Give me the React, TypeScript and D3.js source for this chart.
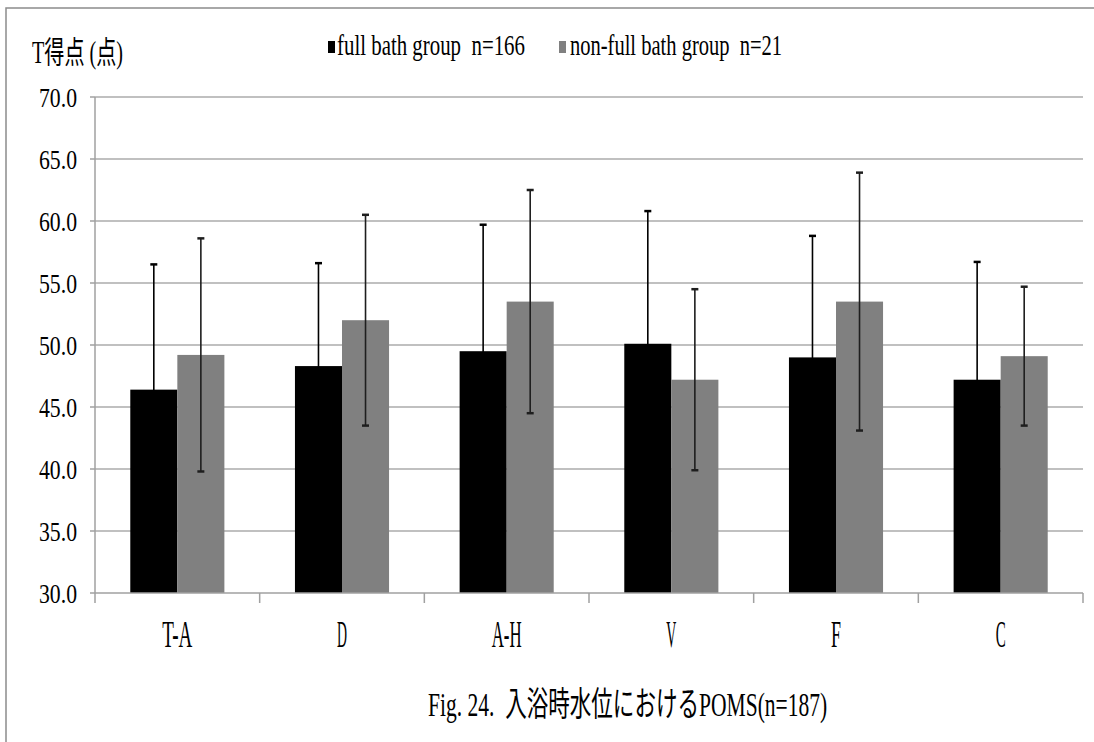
import React, { useLayoutEffect, useRef, useState } from "react";
import * as d3 from "d3";

const categories = ["T-A", "D", "A-H", "V", "F", "C"];
const fullMean = [46.4, 48.3, 49.5, 50.1, 49.0, 47.2];
const fullSD = [10.1, 8.3, 10.2, 10.7, 9.8, 9.5];
const nonMean = [49.2, 52.0, 53.5, 47.2, 53.5, 49.1];
const nonSD = [9.4, 8.5, 9.0, 7.3, 10.4, 5.6];
const seriesNames = ["full bath group  n=166", "non-full bath group  n=21"];
const yTicks = [30, 35, 40, 45, 50, 55, 60, 65, 70];

const WIDTH = 1094;
const HEIGHT = 742;
const PLOT = { left: 95, right: 1083, top: 97, bottom: 593 };
const LATIN = "'Liberation Serif', 'Noto Sans CJK JP', serif";

// squeezed text, the reference font is a narrow Mincho.
// measure the natural width, then scale x so it fills w
function Txt(props: { x: number; y: number; w: number; size: number; anchor?: string; children: string }) {
	const { x, y, w, size, anchor, children } = props;
	const ref = useRef<SVGTextElement>(null);
	const [sx, setSx] = useState(0.6);

	useLayoutEffect(() => {
		if (!ref.current) return;
		const natural = ref.current.getComputedTextLength();
		if (natural > 0) setSx(w / natural);
	}, [w, size, children]);

	let x0 = x;
	if (anchor === "middle") x0 = x - w / 2;
	if (anchor === "end") x0 = x - w;
	return (
		<text
			ref={ref}
			transform={`translate(${x0},${y}) scale(${sx},1)`}
			fontSize={size}
			fontFamily={LATIN}
			style={{ whiteSpace: "pre" }}
			fill="#000">
			{children}
		</text>
	);
}

export default function App() {
	const x = d3.scaleBand<string>().domain(categories).range([PLOT.left, PLOT.right]).padding(0);
	const inner = d3
		.scaleBand<string>()
		.domain(["full", "non"])
		.range([0, x.step()])
		.paddingInner(0)
		.paddingOuter(0.75);
	const y = d3.scaleLinear().domain([30, 70]).range([PLOT.bottom, PLOT.top]);

	const series = [
		{ key: "full", mean: fullMean, sd: fullSD, color: "#000000", err: "#000000" },
		{ key: "non", mean: nonMean, sd: nonSD, color: "#808080", err: "#1e1e1e" }
	];

	const bw = inner.bandwidth();

	return (
		<svg
			width={WIDTH}
			height={HEIGHT}
			style={{ position: "absolute", left: 0, top: 0, background: "#fff" }}>
			<rect x={6} y={8} width={1200} height={900} fill="#fff" stroke="#8c8c8c" strokeWidth={1.5} />

			{/* grid */}
			{yTicks.slice(1).map((t) => (
				<line key={t} x1={PLOT.left} x2={PLOT.right} y1={y(t)} y2={y(t)} stroke="#ababab" strokeWidth={1.5} />
			))}

			{/* bars */}
			{series.map((s) =>
				categories.map((c, i) => (
					<rect
						key={s.key + c}
						x={(x(c) as number) + (inner(s.key) as number)}
						y={y(s.mean[i])}
						width={bw}
						height={y(30) - y(s.mean[i])}
						fill={s.color}
					/>
				))
			)}

			{/* error bars */}
			{series.map((s) =>
				categories.map((c, i) => {
					const cx = (x(c) as number) + (inner(s.key) as number) + bw / 2;
					const hi = y(s.mean[i] + s.sd[i]);
					const lo = y(s.mean[i] - s.sd[i]);
					return (
						<g key={"e" + s.key + c} stroke={s.err}>
							<line x1={cx} x2={cx} y1={hi} y2={lo} strokeWidth={1.6} />
							<line x1={cx - 3.5} x2={cx + 3.5} y1={hi} y2={hi} strokeWidth={2.5} />
							<line x1={cx - 3.5} x2={cx + 3.5} y1={lo} y2={lo} strokeWidth={2.5} />
						</g>
					);
				})
			)}

			{/* axes */}
			<line x1={PLOT.left} x2={PLOT.left} y1={PLOT.top} y2={PLOT.bottom} stroke="#a0a0a0" strokeWidth={1.5} />
			{yTicks.map((t) => (
				<line key={"yt" + t} x1={PLOT.left - 5} x2={PLOT.left} y1={y(t)} y2={y(t)} stroke="#a0a0a0" strokeWidth={1.5} />
			))}
			<line x1={PLOT.left} x2={PLOT.right} y1={PLOT.bottom} y2={PLOT.bottom} stroke="#a0a0a0" strokeWidth={1.5} />
			{categories.concat([""]).map((c, i) => {
				const tx = PLOT.left + i * x.step();
				return <line key={"xt" + i} x1={tx} x2={tx} y1={PLOT.bottom} y2={PLOT.bottom + 10} stroke="#a0a0a0" strokeWidth={1.5} />;
			})}

			{yTicks.map((t) => (
				<Txt key={"yl" + t} x={77} y={y(t) + 10} w={38} size={28} anchor="end">
					{d3.format(".1f")(t)}
				</Txt>
			))}

			{categories.map((c) => (
				<Txt key={"xl" + c} x={(x(c) as number) + x.step() / 2} y={647} w={c.length * 10} size={37} anchor="middle">
					{c}
				</Txt>
			))}

			{/* y title */}
			<Txt x={32} y={63} w={91} size={31}>
				T得点 (点)
			</Txt>

			{/* legend */}
			<rect x={328} y={41} width={7} height={12} fill="#000" />
			<Txt x={337} y={55} w={188} size={30}>
				{seriesNames[0]}
			</Txt>
			<rect x={559} y={41} width={7} height={12} fill="#808080" />
			<Txt x={570} y={55} w={212} size={30}>
				{seriesNames[1]}
			</Txt>

			{/* caption */}
			<Txt x={428} y={716} w={399} size={34}>
				Fig. 24.  入浴時水位におけるPOMS(n=187)
			</Txt>
		</svg>
	);
}
